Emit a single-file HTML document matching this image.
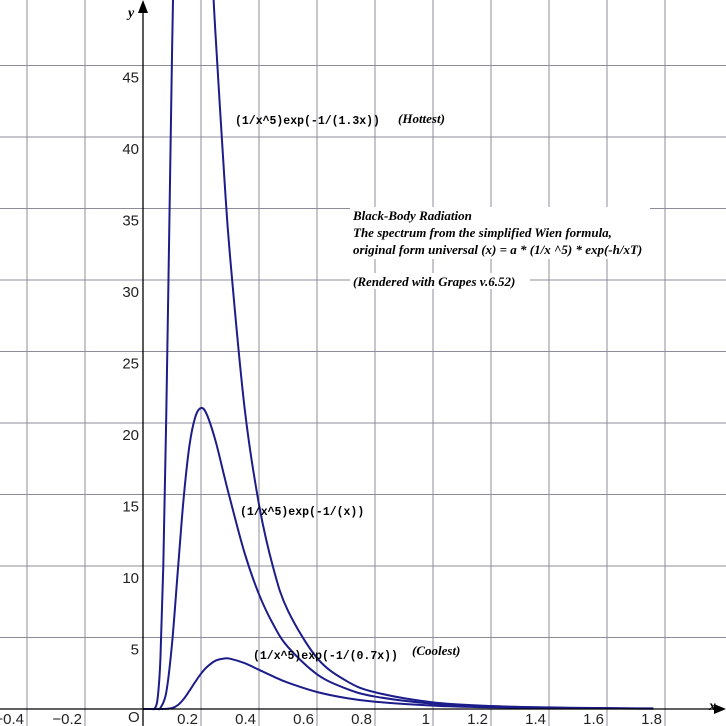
<!DOCTYPE html>
<html><head><meta charset="utf-8"><style>
html,body{margin:0;padding:0;background:#fff;}
svg{display:block;}
.tk{font-family:"Liberation Sans",sans-serif;font-size:15px;fill:#222;}
.eq{font-family:"Liberation Mono",monospace;font-weight:bold;font-size:11.5px;fill:#000;}
.it{font-family:"Liberation Serif",serif;font-style:italic;font-weight:bold;font-size:13px;fill:#000;}
</style></head><body>
<svg id="chart" width="726" height="726" viewBox="0 0 726 726" xmlns="http://www.w3.org/2000/svg">
<defs><clipPath id="clip"><rect x="0" y="0" width="726" height="712"/></clipPath></defs>
<g id="grid"></g>
<g id="labels"></g>
<rect x="350" y="207" width="300" height="52" fill="#fff"/>
<rect x="350" y="273" width="180" height="16" fill="#fff"/>
<g id="curves" clip-path="url(#clip)"></g>
<line x1="0" y1="709" x2="718" y2="709" stroke="#000" stroke-width="1.3"/>
<polygon points="726,709 714,704 714,714" fill="#000"/>
<line x1="143" y1="726" x2="143" y2="8" stroke="#000" stroke-width="1.3"/>
<polygon points="143,0 138,13 148,13" fill="#000"/>
<text x="709" y="710" class="it" style="font-size:14px">x</text>
<text x="128" y="17" class="it" style="font-size:14px">y</text>
<text x="128" y="722" class="tk">O</text>
<text x="235" y="124" class="eq">(1/x^5)exp(-1/(1.3x))</text>
<text x="398" y="123" class="it">(Hottest)</text>
<text x="240" y="515" class="eq">(1/x^5)exp(-1/(x))</text>
<text x="253" y="659" class="eq">(1/x^5)exp(-1/(0.7x))</text>
<text x="412" y="655" class="it">(Coolest)</text>
<g>
<text x="353" y="220" class="it">Black-Body Radiation</text>
<text x="353" y="237" class="it">The spectrum from the simplified Wien formula,</text>
<text x="353" y="254" class="it">original form universal (x) = a * (1/x ^5) * exp(-h/xT)</text>
<text x="353" y="286" class="it">(Rendered with Grapes v.6.52)</text>
</g>
</svg>
<script>
const xTicks=[-0.4,-0.2,0.2,0.4,0.6,0.8,1,1.2,1.4,1.6,1.8];
const yTicks=[5,10,15,20,25,30,35,40,45];
const xHot=[0,0.03,0.04,0.05,0.06,0.07,0.08,0.09,0.1,0.11,0.12,0.15,0.2,0.22,0.24,0.25,0.28,0.3,0.35,0.4,0.45,0.5,0.6,0.7,0.8,1.0,1.2,1.4,1.6,1.76];
const yHot=[0,0,0.04,0.67,3.47,10.0,20.3,32.8,45.7,57,66,78,66.8,58.8,51,47.2,37.3,31.7,21.1,14.3,9.81,6.87,3.57,1.98,1.17,0.46,0.21,0.11,0.06,0.04];
const xMid=[0,0.04,0.05,0.06,0.08,0.1,0.12,0.14,0.16,0.18,0.2,0.22,0.25,0.28,0.3,0.35,0.4,0.45,0.5,0.6,0.7,0.8,1.0,1.2,1.4,1.6,1.76];
const yMid=[0,0,0.007,0.074,1.14,4.54,9.65,14.7,18.4,20.4,21.05,20.6,18.76,16.3,14.7,10.93,8.02,5.88,4.33,2.43,1.43,0.87,0.37,0.18,0.09,0.05,0.03];
const xCool=[0,0.07,0.1,0.12,0.14,0.16,0.18,0.2,0.22,0.25,0.28,0.3,0.35,0.4,0.45,0.5,0.6,0.7,0.8,1.0,1.2,1.4,1.6,1.76];
const yCool=[0,0,0.06,0.27,0.69,1.27,1.89,2.47,2.93,3.38,3.53,3.52,3.21,2.74,2.27,1.84,1.19,0.77,0.51,0.24,0.12,0.07,0.04,0.025];
const NS='http://www.w3.org/2000/svg';
const X0=143,XS=290,Y0=709,YS=14.3;
const sx=v=>X0+v*XS, sy=v=>Y0-v*YS;
const grid=document.getElementById('grid'),labels=document.getElementById('labels'),curves=document.getElementById('curves');
for(const t of xTicks){
  const l=document.createElementNS(NS,'line');
  
  
  l.setAttribute('x1',sx(t));l.setAttribute('x2',sx(t));l.setAttribute('y1',0);l.setAttribute('y2',726);
  l.setAttribute('stroke','#8c8c9a');l.setAttribute('stroke-width','1');grid.appendChild(l);
  const s=document.createElementNS(NS,'text');
  
  
  s.setAttribute('class','tk');s.setAttribute('x',sx(t)-3);s.setAttribute('y',724);s.setAttribute('text-anchor','end');
  s.textContent=(t<0?'\u2212':'')+String(Math.abs(t));labels.appendChild(s);
}
for(const t of yTicks){
  const l=document.createElementNS(NS,'line');
  
  
  l.setAttribute('x1',0);l.setAttribute('x2',726);l.setAttribute('y1',sy(t));l.setAttribute('y2',sy(t));
  l.setAttribute('stroke','#8c8c9a');l.setAttribute('stroke-width','1');grid.appendChild(l);
  const s=document.createElementNS(NS,'text');
  
  
  s.setAttribute('class','tk');s.setAttribute('x',139);s.setAttribute('y',sy(t)+17);s.setAttribute('text-anchor','end');
  s.textContent=String(t);labels.appendChild(s);
}
function pathFrom(xs,ys){
  const p=xs.map((x,i)=>[sx(x),sy(ys[i])]);
  let d='M'+p[0][0]+','+p[0][1];
  for(let i=0;i<p.length-1;i++){
    const a=p[Math.max(0,i-1)],b=p[i],c=p[i+1],e=p[Math.min(p.length-1,i+2)];
    const c1=[b[0]+(c[0]-a[0])/6,b[1]+(c[1]-a[1])/6],c2=[c[0]-(e[0]-b[0])/6,c[1]-(e[1]-b[1])/6];
    d+=' C'+c1[0]+','+c1[1]+' '+c2[0]+','+c2[1]+' '+c[0]+','+c[1];
  }
  return d;
}
[['curve-hottest',xHot,yHot],['curve-middle',xMid,yMid],['curve-coolest',xCool,yCool]].forEach(([n,xs,ys])=>{
  const p=document.createElementNS(NS,'path');
  
  
  p.setAttribute('d',pathFrom(xs,ys));p.setAttribute('fill','none');p.setAttribute('stroke','#1c1c8a');p.setAttribute('stroke-width','2');
  curves.appendChild(p);
});
</script>
</body></html>
